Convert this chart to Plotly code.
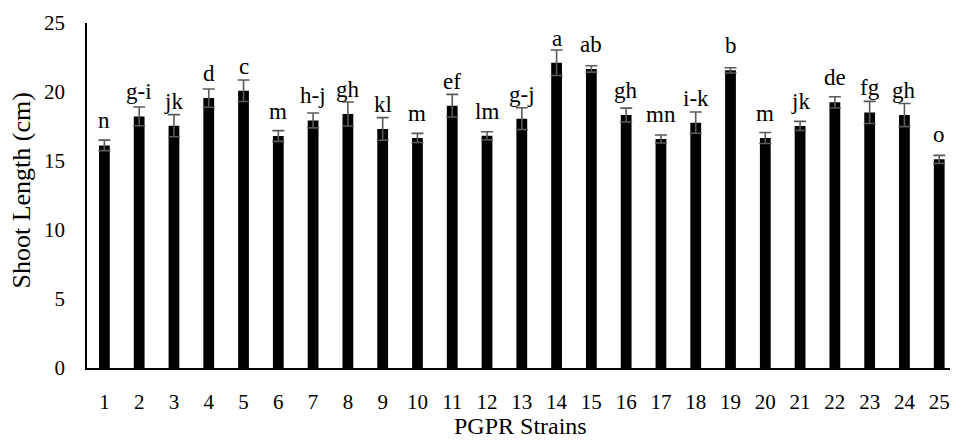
import plotly.graph_objects as go

strains = list(range(1, 26))
shoot_length = [16.13, 18.23, 17.56, 19.56, 20.09, 16.81, 17.94, 18.41, 17.32, 16.67,
                19.01, 16.83, 18.07, 22.12, 21.67, 18.33, 16.59, 17.78, 21.57, 16.67,
                17.54, 19.25, 18.52, 18.33, 15.12]
std_err = [0.38, 0.68, 0.80, 0.66, 0.78, 0.39, 0.54, 0.87, 0.82, 0.33,
           0.82, 0.29, 0.79, 0.92, 0.23, 0.50, 0.29, 0.77, 0.19, 0.40,
           0.33, 0.41, 0.80, 0.84, 0.29]
letters = ["n", "g-i", "jk", "d", "c", "m", "h-j", "gh", "kl", "m",
           "ef", "lm", "g-j", "a", "ab", "gh", "mn", "i-k", "b", "m",
           "jk", "de", "fg", "gh", "o"]
y_ticks = [0, 5, 10, 15, 20, 25]

FONT = "Liberation Serif"

fig = go.Figure()
fig.add_trace(go.Bar(
    x=strains, y=shoot_length, width=0.31,
    marker=dict(color="black", line=dict(width=0)),
    error_y=dict(type="data", array=std_err, visible=True,
                 color="#5a5a5a", thickness=1.6, width=6),
    showlegend=False,
))

for xi, v, lab in zip(strains, shoot_length, letters):
    fig.add_annotation(x=xi, y=v, text=lab, showarrow=False,
                       xanchor="center", yanchor="bottom", yshift=10,
                       font=dict(family=FONT, size=23, color="black"))

fig.add_annotation(xref="paper", yref="paper", x=0, y=0.5, xshift=-66, yshift=5,
                   text="Shoot Length (cm)", textangle=-90, showarrow=False,
                   xanchor="center", yanchor="middle",
                   font=dict(family=FONT, size=26, color="black"))
fig.add_annotation(xref="paper", yref="paper", x=0.5, y=0, xshift=2, yshift=-58,
                   text="PGPR Strains", showarrow=False, borderpad=0,
                   xanchor="center", yanchor="middle",
                   font=dict(family=FONT, size=24, color="black"))

fig.update_layout(
    width=942, height=432,
    margin=dict(l=79, r=0, t=15, b=72),
    plot_bgcolor="white", paper_bgcolor="white",
    bargap=0.69,
    font=dict(family=FONT, size=21, color="black"),
)
fig.update_xaxes(range=[0.5, 25.31], tickmode="array", tickvals=strains,
                 ticktext=[str(s) for s in strains],
                 showline=True, linecolor="black", linewidth=1.5,
                 showgrid=False, zeroline=False, ticks="", ticklabelstandoff=14)
fig.update_yaxes(range=[0, 25], tickmode="array", tickvals=y_ticks,
                 showline=True, linecolor="black", linewidth=1.5,
                 showgrid=False, zeroline=False, ticks="", ticklabelstandoff=16)

fig.write_html("out.html")
